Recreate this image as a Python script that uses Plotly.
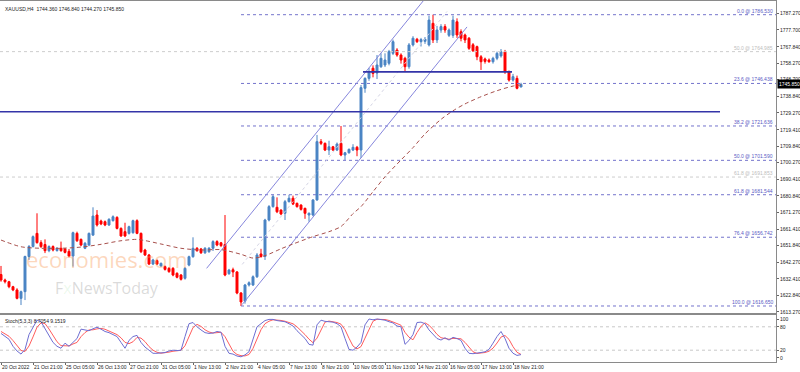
import plotly.graph_objects as go

# ---------------- data ----------------
title_text = "XAUUSD,H4  1744.360 1746.840 1744.270 1745.850"
stoch_text = "Stoch(5,3,3) 8.7054 9.1519"

opens = [1635.0,1631.8,1630.8,1627.9,1626.0,1621.1,1625.0,1645.5,1651.3,1659.0,
         1653.6,1652.5,1648.9,1651.3,1649.0,1650.3,1649.9,1648.5,1645.8,1659.0,
         1655.5,1650.3,1652.2,1658.0,1669.7,1666.2,1665.8,1663.9,1666.4,1668.3,
         1661.9,1660.0,1659.0,1659.4,1666.4,1659.0,1649.3,1646.4,1641.1,1643.1,
         1640.0,1639.6,1638.6,1638.6,1635.7,1634.7,1632.8,1640.5,1645.4,1650.3,
         1649.9,1647.7,1648.3,1650.3,1654.2,1653.5,1652.5,1635.5,1637.8,1636.5,
         1624.2,1619.5,1628.9,1628.9,1633.7,1647.0,1645.5,1666.8,1674.6,1674.2,
         1672.6,1670.7,1677.5,1679.5,1676.5,1675.5,1673.6,1669.7,1669.7,1678.5,
         1712.5,1711.5,1707.6,1709.5,1707.6,1711.5,1704.7,1706.0,1707.6,1709.2,
         1707.6,1743.6,1749.4,1755.3,1752.5,1756.2,1757.2,1758.2,1764.0,1765.9,
         1763.0,1761.1,1756.2,1768.9,1772.2,1770.8,1771.0,1768.9,1781.5,1771.8,
         1777.6,1779.6,1774.5,1774.5,1782.4,1776.6,1774.7,1772.8,1769.0,1767.9,
         1762.0,1760.7,1760.1,1759.1,1761.1,1762.5,1764.9,1753.3,1748.4,1749.4,
         1744.36]
highs = [1640.0,1632.6,1631.3,1628.4,1627.0,1625.6,1646.0,1652.2,1657.8,1670.7,
         1655.0,1655.5,1652.0,1652.0,1651.0,1654.2,1650.5,1649.9,1660.0,1660.0,
         1656.0,1654.0,1659.5,1674.2,1672.6,1667.0,1666.5,1667.8,1669.5,1669.0,
         1662.5,1665.2,1663.5,1667.0,1667.2,1659.5,1650.0,1647.0,1644.2,1643.8,
         1642.0,1640.3,1639.3,1639.3,1636.3,1635.3,1639.3,1646.0,1656.7,1651.0,
         1650.5,1651.0,1651.0,1655.0,1655.0,1654.0,1669.7,1638.3,1639.0,1637.0,
         1624.8,1629.5,1631.0,1634.5,1647.5,1650.0,1667.5,1675.5,1681.5,1680.0,
         1673.0,1678.5,1681.5,1681.0,1677.0,1676.0,1674.0,1671.2,1679.0,1716.4,
         1714.0,1712.0,1713.0,1710.0,1712.0,1721.6,1706.5,1708.5,1711.0,1710.0,
         1745.5,1750.0,1755.5,1757.0,1763.0,1764.0,1764.0,1766.0,1772.0,1767.0,
         1764.0,1762.0,1770.0,1774.0,1773.0,1773.0,1773.5,1786.0,1786.53,1780.0,
         1781.0,1781.0,1778.5,1786.0,1784.4,1778.0,1775.5,1773.5,1770.0,1768.5,
         1763.0,1761.5,1761.0,1762.0,1765.0,1766.5,1766.0,1754.0,1752.0,1751.0,
         1746.84]
lows = [1630.8,1629.8,1627.0,1625.3,1620.5,1617.2,1620.1,1643.5,1650.8,1653.0,
        1650.5,1647.5,1648.0,1648.5,1648.3,1648.3,1647.3,1645.0,1639.6,1654.0,
        1651.5,1649.8,1651.5,1657.5,1663.0,1663.8,1663.2,1663.3,1665.9,1661.3,
        1657.0,1656.8,1658.3,1658.8,1658.5,1647.5,1645.8,1640.5,1640.5,1640.5,
        1639.5,1637.3,1636.0,1634.0,1632.8,1631.5,1632.0,1639.8,1644.8,1648.3,
        1647.0,1647.0,1647.7,1648.7,1651.5,1651.0,1634.0,1634.8,1633.5,1623.5,
        1616.65,1618.0,1628.0,1628.3,1633.0,1644.8,1643.5,1666.0,1674.0,1670.8,
        1669.6,1666.8,1677.0,1675.5,1674.0,1672.3,1667.5,1665.8,1669.0,1678.0,
        1710.5,1707.0,1704.7,1707.0,1707.0,1704.0,1701.8,1705.5,1707.0,1704.0,
        1703.0,1741.0,1748.0,1750.0,1749.0,1755.5,1756.0,1757.0,1763.0,1762.0,
        1758.0,1753.3,1755.0,1768.0,1770.0,1768.0,1769.5,1768.0,1770.0,1770.0,
        1776.0,1776.0,1773.5,1773.0,1773.0,1771.0,1770.0,1766.0,1764.8,1760.0,
        1754.3,1758.0,1758.5,1758.0,1760.0,1761.5,1752.0,1747.5,1747.5,1743.0,
        1744.27]
closes = [1631.8,1630.8,1627.9,1626.0,1621.1,1625.0,1645.5,1651.3,1657.1,1653.6,
          1651.3,1648.9,1651.3,1649.3,1650.3,1648.9,1647.9,1645.8,1659.4,1654.7,
          1652.2,1653.2,1659.0,1669.1,1663.9,1664.5,1663.9,1667.2,1668.7,1661.9,
          1657.5,1657.5,1662.9,1666.4,1659.0,1648.3,1646.4,1641.1,1643.5,1641.1,
          1641.5,1638.0,1636.7,1634.7,1633.4,1632.2,1638.6,1645.4,1650.3,1648.9,
          1647.7,1650.3,1650.3,1654.2,1652.2,1651.9,1634.7,1637.6,1636.5,1624.2,
          1619.0,1628.9,1630.2,1633.7,1646.4,1645.5,1666.8,1674.6,1680.4,1671.6,
          1670.3,1677.5,1679.5,1676.1,1674.6,1673.0,1670.7,1670.7,1678.5,1712.5,
          1711.5,1707.6,1709.5,1707.6,1711.1,1704.7,1706.0,1708.0,1709.2,1707.6,
          1744.0,1749.4,1753.3,1752.3,1757.2,1761.1,1760.1,1765.0,1770.8,1763.0,
          1760.1,1756.2,1768.9,1772.8,1770.8,1772.0,1772.3,1783.4,1771.8,1777.6,
          1779.6,1777.6,1777.6,1783.4,1774.7,1772.8,1771.8,1766.9,1765.5,1762.0,
          1759.1,1759.3,1759.1,1761.1,1764.0,1764.9,1753.3,1748.4,1750.4,1743.6,
          1745.85]
bar_index = list(range(len(opens)))

# moving average (read at selected bars)
ma_bars = [0,5,10,15,20,25,30,34,36,40,45,50,55,60,63,66,70,73,78,82,85,88,90,
           93,96,100,103,106,110,113,116,120,124,128,130]
ma_values = [1655.1,1651.2,1650.3,1650.3,1651.0,1652.6,1654.7,1655.5,1654.8,1652.8,
             1650.3,1649.3,1649.5,1646.8,1644.6,1646.0,1650.0,1652.8,1657.1,1660.0,
             1663.0,1670.5,1674.6,1683.3,1692.0,1701.8,1709.0,1717.0,1725.5,1730.5,
             1734.5,1738.7,1742.2,1744.9,1745.6]

# stochastic
stoch_k = [63,56,48,30,18,10,22,60,80,97,93,75,55,40,30,25,38,30,40,50,
           74,72,70,75,79,74,68,65,60,55,40,25,45,55,58,40,28,20,12,12,
           13,14,18,20,19,20,55,88,91,80,72,65,63,64,68,66,30,12,10,5,
           3,8,16,50,80,88,96,99,99,96,94,93,88,82,70,60,50,35,33,85,
           97,94,93,92,88,80,50,22,20,28,40,85,100,98,100,99,97,93,90,82,
           80,35,45,60,91,92,88,72,60,50,46,52,46,53,50,45,25,12,11,12,
           14,16,22,38,55,68,50,25,12.2,6.5,8.7054]
stoch_d = [68,62,55.7,44.7,32,19.3,16.7,30.7,54,79,90,88.3,74.3,56.7,41.7,31.7,31,31,36,40,
           54.7,65.3,72,72.3,74.7,76,73.7,69,64.3,60,51.7,40,36.7,41.7,52.7,51,42,29.3,20,14.7,
           12.3,13,15,17.3,19,19.7,31.3,54.3,78,86.3,81,72.3,66.7,64,65,66,54.7,36,17.3,9,
           6,5.3,9,24.7,48.7,72.7,88,94.3,98,98,96.3,94.3,91.7,87.7,80,70.7,60,48.3,39.3,51,
           71.7,92,94.7,93,91,86.7,72.7,50.7,30.7,23.3,29.3,51,75,94.3,99.3,99,98.7,96.3,93.3,88.3,
           84,65.7,53.3,46.7,65.3,81,90.3,84,73.3,60.7,52,49.3,48,50.3,49.7,49.3,40,27.3,16,11.7,
           12.3,14,17.3,25.3,38.3,53.7,57.7,47.7,29.1,14.6,9.1519]
stoch_levels = [20, 80]
stoch_ticks = [0, 20, 80, 100]

# fibonacci levels
fib_names = ["0.0", "23.6", "38.2", "50.0", "61.8", "76.4", "100.0"]
fib_prices = [1786.530, 1746.438, 1721.636, 1701.590, 1681.544, 1656.742, 1616.650]
fib_start_bar = 60
old_fib_names = ["50.0", "61.8"]
old_fib_prices = [1764.985, 1691.853]

# drawn lines (bar index, price)
support_bars = [-0.25, 179.75]
support_price = 1729.9
neck_bars = [90.5, 127.75]
neck_price = 1753.2
chan_upper_bars = [51.4, 106.5]
chan_upper_prices = [1638.6, 1797.3]
chan_lower_bars = [60.3, 116.5]
chan_lower_prices = [1617.5, 1779.4]
chan_mid_bars = [60.3, 111.5]
chan_mid_prices = [1640.9, 1788.4]

price_ticks = [1787.270, 1777.700, 1767.840, 1758.270, 1748.700, 1738.840, 1729.270,
               1719.410, 1709.840, 1700.270, 1690.410, 1680.840, 1671.270, 1661.410,
               1651.840, 1642.270, 1632.410, 1622.840, 1613.270]
last_price = 1745.850

time_tick_bars = [0, 8, 16, 24, 32, 40, 48, 56, 64, 72, 80, 88, 96, 104, 112, 120, 128]
time_tick_labels = ["20 Oct 2022", "21 Oct 21:00", "25 Oct 05:00", "26 Oct 13:00",
                    "27 Oct 21:00", "31 Oct 05:00", "1 Nov 13:00", "2 Nov 21:00",
                    "4 Nov 05:00", "7 Nov 13:00", "8 Nov 21:00", "10 Nov 05:00",
                    "11 Nov 13:00", "14 Nov 21:00", "16 Nov 05:00", "17 Nov 13:00",
                    "18 Nov 21:00"]

# ---------------- figure ----------------
W, H = 800, 372
PLOT_R = 776
XR = [-0.25, 193.75]
FONT = "Liberation Sans"
BLUE_UP = "#4a84c4"
RED_DN = "#ff0000"
FIB_C = "#7474cc"
GRAY_C = "#cdcdcd"
LINE_C = "#3434a8"

fig = go.Figure()

for p in old_fib_prices:
    fig.add_trace(go.Scatter(x=[XR[0], XR[1]], y=[p, p], mode="lines",
                             line=dict(color=GRAY_C, width=1, dash="dot"),
                             hoverinfo="skip", showlegend=False))
for p in fib_prices:
    fig.add_trace(go.Scatter(x=[fib_start_bar, XR[1]], y=[p, p], mode="lines",
                             line=dict(color=FIB_C, width=1, dash="dot"),
                             hoverinfo="skip", showlegend=False))
fig.add_trace(go.Scatter(x=chan_mid_bars, y=chan_mid_prices, mode="lines",
                         line=dict(color="#d4d4e4", width=1, dash="dot"),
                         hoverinfo="skip", showlegend=False))
for bx, py in [(chan_upper_bars, chan_upper_prices), (chan_lower_bars, chan_lower_prices)]:
    fig.add_trace(go.Scatter(x=bx, y=py, mode="lines",
                             line=dict(color="#8686dc", width=1),
                             hoverinfo="skip", showlegend=False))
fig.add_trace(go.Scatter(x=ma_bars, y=ma_values, mode="lines",
                         line=dict(color="#a8504c", width=1, dash="4px,3px", shape="spline", smoothing=0.8),
                         hoverinfo="skip", showlegend=False))
fig.add_trace(go.Candlestick(x=bar_index, open=opens, high=highs, low=lows, close=closes,
                             increasing=dict(line=dict(color=BLUE_UP, width=1), fillcolor=BLUE_UP),
                             decreasing=dict(line=dict(color=RED_DN, width=1), fillcolor=RED_DN),
                             whiskerwidth=0, hoverinfo="skip", showlegend=False))
fig.add_trace(go.Scatter(x=support_bars, y=[support_price] * 2, mode="lines",
                         line=dict(color=LINE_C, width=1.6), hoverinfo="skip", showlegend=False))
fig.add_trace(go.Scatter(x=neck_bars, y=[neck_price] * 2, mode="lines",
                         line=dict(color=LINE_C, width=1.6), hoverinfo="skip", showlegend=False))

for lv in stoch_levels:
    fig.add_trace(go.Scatter(x=[XR[0], XR[1]], y=[lv, lv], mode="lines", xaxis="x2", yaxis="y2",
                             line=dict(color="#c8c8c8", width=1, dash="dot"),
                             hoverinfo="skip", showlegend=False))
fig.add_trace(go.Scatter(x=bar_index, y=stoch_d, mode="lines", xaxis="x2", yaxis="y2",
                         line=dict(color="#ff5c5c", width=1), hoverinfo="skip", showlegend=False))
fig.add_trace(go.Scatter(x=bar_index, y=stoch_k, mode="lines", xaxis="x2", yaxis="y2",
                         line=dict(color="#6e6ed2", width=1), hoverinfo="skip", showlegend=False))

plot_w = PLOT_R
plot_h = H - 1 - 10
dom_x = [0, 1]
main_dom = [(362 - 313) / plot_h, 1]
stoch_dom = [0, (362 - 315) / plot_h]

annotations = []
annotations.append(dict(xref="paper", yref="paper", x=3 / plot_w, y=1 - 3 / plot_h, xanchor="left", yanchor="top",
                        text=title_text, showarrow=False, font=dict(family=FONT, size=5, color="#222")))
annotations.append(dict(xref="paper", yref="paper", x=3 / plot_w, y=stoch_dom[1] - 1 / plot_h,
                        xanchor="left", yanchor="top",
                        text=stoch_text, showarrow=False, font=dict(family=FONT, size=5, color="#222")))
for n, p in zip(fib_names, fib_prices):
    annotations.append(dict(xref="paper", yref="y", x=774 / plot_w, y=p, xanchor="right", yanchor="bottom",
                            text=f"{n} @ {p:.3f}", showarrow=False, borderpad=0,
                            font=dict(family=FONT, size=5, color="#5a5ac4")))
for n, p in zip(old_fib_names, old_fib_prices):
    annotations.append(dict(xref="paper", yref="y", x=774 / plot_w, y=p, xanchor="right", yanchor="bottom",
                            text=f"{n} @ {p:.3f}", showarrow=False, borderpad=0,
                            font=dict(family=FONT, size=5, color="#bdbdbd")))
annotations.append(dict(xref="paper", yref="y", x=777 / plot_w, y=last_price, xanchor="left", yanchor="middle",
                        text=f"{last_price:.3f}", showarrow=False, bgcolor="#000", borderpad=1,
                        font=dict(family=FONT, size=5, color="#fff")))
# watermark
annotations.append(dict(xref="paper", yref="paper", x=107 / plot_w, y=(362 - 259) / plot_h,
                        xanchor="center", yanchor="middle",
                        text="economies.com", showarrow=False, borderpad=0,
                        font=dict(family="Open Sans", size=22, color="rgba(248,150,80,0.38)")))
annotations.append(dict(xref="paper", yref="paper", x=107 / plot_w, y=(362 - 288) / plot_h,
                        xanchor="center", yanchor="middle",
                        text="F<span style='color:rgba(90,200,90,0.35)'>x</span>NewsToday", showarrow=False,
                        borderpad=0,
                        font=dict(family="Open Sans", size=16, color="rgba(150,150,150,0.35)")))

axis_common = dict(showgrid=False, zeroline=False, showline=True, mirror=True,
                   linecolor="#8a8a8a", linewidth=1, automargin=False)

fig.update_layout(
    width=W, height=H, margin=dict(l=0, r=W - PLOT_R, t=1, b=10, autoexpand=False),
    paper_bgcolor="white", plot_bgcolor="white", showlegend=False,
    xaxis=dict(domain=dom_x, range=XR, anchor="y", showticklabels=False, ticks="",
               rangeslider=dict(visible=False), **axis_common),
    yaxis=dict(domain=main_dom, range=[1612.56, 1794.52], anchor="x", side="right",
               tickvals=price_ticks, ticktext=[f"{v:.3f}" for v in price_ticks],
               tickfont=dict(family=FONT, size=5, color="#222"), ticks="outside", ticklen=2,
               tickcolor="#666", **axis_common),
    xaxis2=dict(domain=dom_x, range=XR, anchor="y2", tickvals=time_tick_bars, ticktext=time_tick_labels,
                tickfont=dict(family=FONT, size=5, color="#222"), ticks="outside", ticklen=2,
                tickcolor="#666", ticklabelposition="outside right", tickangle=0, **axis_common),
    yaxis2=dict(domain=stoch_dom, range=[-10.3, 110.3], anchor="x2", side="right",
                tickvals=stoch_ticks, ticktext=[str(v) for v in stoch_ticks],
                tickfont=dict(family=FONT, size=5, color="#222"), ticks="outside", ticklen=2,
                tickcolor="#666", **axis_common),
    annotations=annotations,
)

fig.write_html("out.html", config={"displayModeBar": False, "staticPlot": True},
               post_script="document.body.style.margin='0';document.body.style.overflow='hidden';")
